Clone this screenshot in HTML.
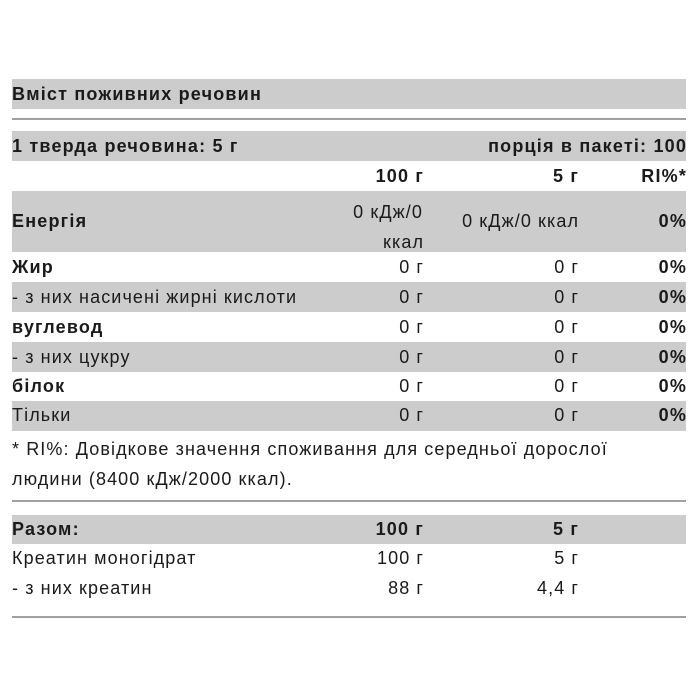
<!DOCTYPE html>
<html><head><meta charset="utf-8"><style>
body{margin:0;width:700px;height:700px;background:#fff;font-family:"Liberation Sans",Arial,sans-serif;font-size:18px;letter-spacing:1.1px;color:#1a1a1a;position:relative;overflow:hidden}
.b{position:absolute;left:12px;width:674px;background:#ccc}
.l{position:absolute;left:12px;width:674px;height:2px;background:#a0a0a0}
.t{position:absolute;white-space:nowrap;line-height:20px}
.r{text-align:right;letter-spacing:1.1px}
.r::after{content:"";margin-right:-1.1px}
.bold{font-weight:bold;letter-spacing:1.2px}
</style></head><body>
<div class="b" style="top:79px;height:30px"></div>
<div class="l" style="top:118px"></div>
<div class="b" style="top:131px;height:30px"></div>
<div class="b" style="top:191px;height:61px"></div>
<div class="b" style="top:282px;height:30px"></div>
<div class="b" style="top:342px;height:30px"></div>
<div class="b" style="top:401px;height:30px"></div>
<div class="l" style="top:500px"></div>
<div class="b" style="top:515px;height:29px"></div>
<div class="l" style="top:616px"></div>

<div class="t bold" style="left:12px;top:84px">Вміст поживних речовин</div>
<div class="t bold" style="left:12px;top:136px">1 тверда речовина: 5 г</div>
<div class="t bold r" style="right:14px;top:136px">порція в пакеті: 100</div>

<div class="t bold r" style="right:277px;top:166px">100 г</div>
<div class="t bold r" style="right:122px;top:166px">5 г</div>
<div class="t bold r" style="right:14px;top:166px">RI%*</div>

<div class="t bold" style="left:12px;top:211px">Енергія</div>
<div class="t r" style="right:277px;top:197px;line-height:30px;text-align:right">0 кДж/0<br>ккал</div>
<div class="t r" style="right:122px;top:211px">0 кДж/0 ккал</div>
<div class="t bold r" style="right:14px;top:211px">0%</div>

<div class="t bold" style="left:12px;top:257px">Жир</div>
<div class="t r" style="right:277px;top:257px">0 г</div><div class="t r" style="right:122px;top:257px">0 г</div><div class="t bold r" style="right:14px;top:257px">0%</div>

<div class="t" style="left:12px;top:287px">- з них насичені жирні кислоти</div>
<div class="t r" style="right:277px;top:287px">0 г</div><div class="t r" style="right:122px;top:287px">0 г</div><div class="t bold r" style="right:14px;top:287px">0%</div>

<div class="t bold" style="left:12px;top:317px">вуглевод</div>
<div class="t r" style="right:277px;top:317px">0 г</div><div class="t r" style="right:122px;top:317px">0 г</div><div class="t bold r" style="right:14px;top:317px">0%</div>

<div class="t" style="left:12px;top:347px">- з них цукру</div>
<div class="t r" style="right:277px;top:347px">0 г</div><div class="t r" style="right:122px;top:347px">0 г</div><div class="t bold r" style="right:14px;top:347px">0%</div>

<div class="t bold" style="left:12px;top:376px">білок</div>
<div class="t r" style="right:277px;top:376px">0 г</div><div class="t r" style="right:122px;top:376px">0 г</div><div class="t bold r" style="right:14px;top:376px">0%</div>

<div class="t" style="left:12px;top:405px">Тільки</div>
<div class="t r" style="right:277px;top:405px">0 г</div><div class="t r" style="right:122px;top:405px">0 г</div><div class="t bold r" style="right:14px;top:405px">0%</div>

<div class="t" style="left:12px;top:434px;line-height:30px">* RI%: Довідкове значення споживання для середньої дорослої<br>людини (8400 кДж/2000 ккал).</div>

<div class="t bold" style="left:12px;top:519px">Разом:</div>
<div class="t bold r" style="right:277px;top:519px">100 г</div>
<div class="t bold r" style="right:122px;top:519px">5 г</div>

<div class="t" style="left:12px;top:548px">Креатин моногідрат</div>
<div class="t r" style="right:277px;top:548px">100 г</div><div class="t r" style="right:122px;top:548px">5 г</div>
<div class="t" style="left:12px;top:578px">- з них креатин</div>
<div class="t r" style="right:277px;top:578px">88 г</div><div class="t r" style="right:122px;top:578px">4,4 г</div>
</body></html>
